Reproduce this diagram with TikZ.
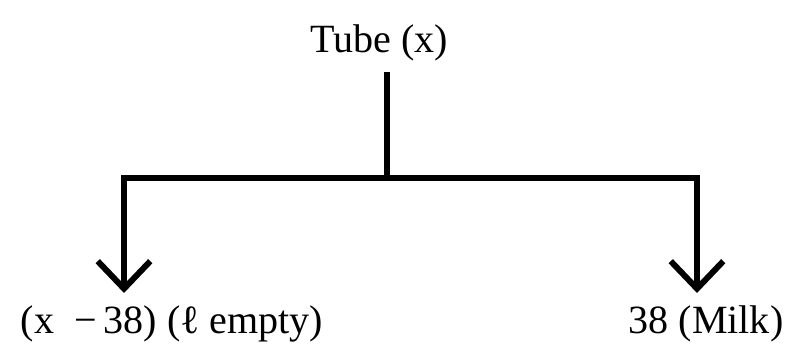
\documentclass[tikz,border=0pt]{standalone}
\usepackage{fontspec}
\setmainfont{Liberation Serif}
\usetikzlibrary{arrows.meta}
\begin{document}
\begin{tikzpicture}[
  bar/.style={line width=3.4pt,line cap=rect},
  branch/.style={bar,-{Straight Barb[length=0.55cm,width=1.05cm,line width=3.4pt]}},
  lbl/.style={font=\fontsize{22.8}{26}\selectfont,inner sep=0pt}
]
\useasboundingbox (0,0) rectangle (15.74,-6.88);

\node[lbl] (tube) at (7.58,-0.86) {Tube (x)};
\node[lbl] (empty) at (3.44,-6.48) {(x \ −\,38) (ℓ empty)};
\node[lbl] (milk) at (14.12,-6.48) {38 (Milk)};

\coordinate (top) at (7.74,-1.5);
\coordinate (mid) at (7.74,-3.56);
\coordinate (lcorner) at (2.48,-3.56);
\coordinate (rcorner) at (13.94,-3.56);
\coordinate (ltip) at (2.48,-5.86);
\coordinate (rtip) at (13.94,-5.86);

\draw[bar] (top) -- (mid);
\draw[bar] (lcorner) -- (rcorner);
\draw[branch] (lcorner) -- (ltip);
\draw[branch] (rcorner) -- (rtip);
\end{tikzpicture}
\end{document}
